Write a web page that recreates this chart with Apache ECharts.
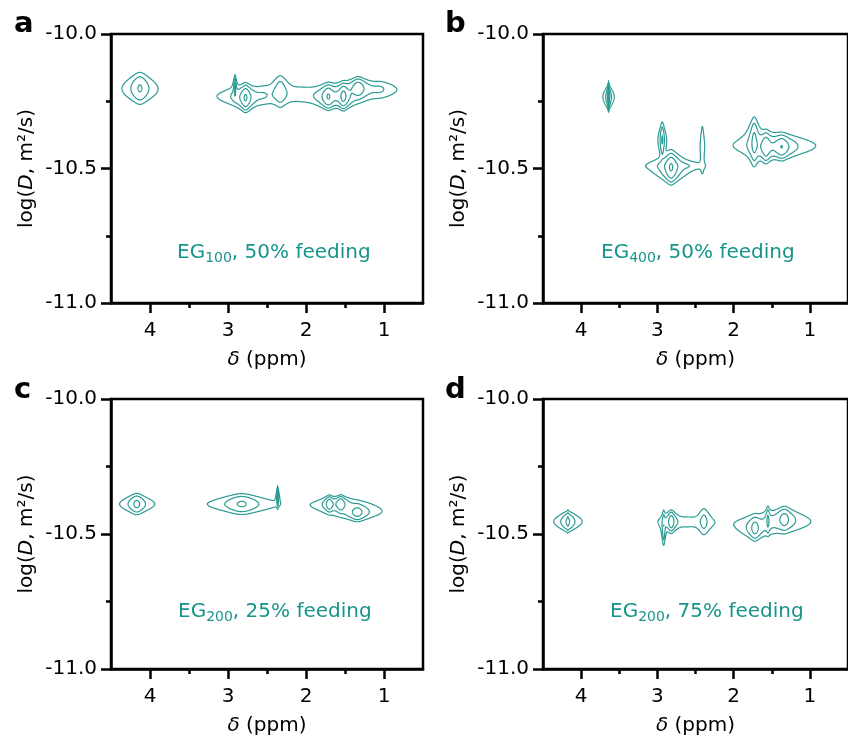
<!DOCTYPE html>
<html><head><meta charset="utf-8">
<script src="https://cdn.jsdelivr.net/npm/echarts@6/dist/echarts.min.js"></script>
<style>html,body{margin:0;padding:0;background:#fff}#c{width:848px;height:744px}</style>
</head><body><div id="c"></div>
<script>
// ---------------- data ----------------
const panelLetters = ['a', 'b', 'c', 'd'];
const sampleSubscripts = ['100', '400', '200', '200'];
const feedingTexts = [', 50% feeding', ', 50% feeding', ', 25% feeding', ', 75% feeding'];
const xMajorTicks = [1, 2, 3, 4];
const xMinorTicks = [1.5, 2.5, 3.5];
const contourLevels = [1, 3, 9, 27, 81];

// Panel a: EG100, 50% feeding  (peak centre δ, centre logD, width δ, width logD, height)
const shiftA = [4.13, 2.91, 2.775, 2.87, 2.33, 2.55, 2.05, 1.714, 1.52, 1.33, 1.05];
const logDA = [-10.202, -10.20, -10.237, -10.232, -10.213, -10.226, -10.222, -10.233, -10.232, -10.202, -10.205];
const widthShiftA = [0.075, 0.008, 0.04, 0.15, 0.06, 0.1, 0.15, 0.05, 0.04, 0.06, 0.12];
const widthLogDA = [0.039, 0.03, 0.03, 0.025, 0.043, 0.028, 0.025, 0.028, 0.028, 0.025, 0.025];
const heightA = [10, 14, 30, 2, 6, 1.6, 1.0, 28, 40, 20, 2.5];

// Panel b: EG400, 50% feeding
const shiftB = [3.64, 3.64, 2.936, 2.82, 2.82, 2.41, 2.6, 1.73, 1.575, 1.37, 1.45];
const logDB = [-10.234, -10.234, -10.394, -10.488, -10.497, -10.425, -10.49, -10.40, -10.42, -10.42, -10.41];
const widthShiftB = [0.03, 0.004, 0.018, 0.15, 0.05, 0.02, 0.1, 0.035, 0.04, 0.06, 0.28];
const widthLogDB = [0.03, 0.028, 0.044, 0.016, 0.035, 0.09, 0.012, 0.058, 0.035, 0.028, 0.035];
const heightB = [6, 60, 10, 2, 30, 2.2, 1.3, 12, 20, 25, 2.2];

// Panel c: EG200, 25% feeding
const shiftC = [4.17, 2.824, 2.363, 1.70, 1.555, 1.342, 1.45];
const logDC = [-10.389, -10.389, -10.363, -10.389, -10.389, -10.42, -10.405];
const widthShiftC = [0.063, 0.135, 0.004, 0.03, 0.035, 0.07, 0.25];
const widthLogDC = [0.025, 0.025, 0.022, 0.019, 0.019, 0.021, 0.03];
const heightC = [12, 10.5, 30, 20, 24, 14, 1.5];

// Panel d: EG200, 75% feeding
const shiftD = [4.174, 4.174, 2.818, 2.917, 2.39, 2.6, 1.72, 1.55, 1.335, 1.45];
const logDD = [-10.454, -10.454, -10.454, -10.478, -10.454, -10.455, -10.479, -10.45, -10.445, -10.46];
const widthShiftD = [0.06, 0.008, 0.03, 0.012, 0.05, 0.12, 0.05, 0.015, 0.06, 0.3];
const widthLogDD = [0.025, 0.03, 0.025, 0.045, 0.04, 0.017, 0.029, 0.034, 0.029, 0.034];
const heightD = [10, 4, 20, 8, 4, 1.4, 14, 10, 14, 2];

// ---------------- contour computation ----------------
const panels = [
  { shift: shiftA, logD: logDA, wS: widthShiftA, wD: widthLogDA, h: heightA },
  { shift: shiftB, logD: logDB, wS: widthShiftB, wD: widthLogDB, h: heightB },
  { shift: shiftC, logD: logDC, wS: widthShiftC, wD: widthLogDC, h: heightC },
  { shift: shiftD, logD: logDD, wS: widthShiftD, wD: widthLogDD, h: heightD }
];
const GX0 = 0.5, GX1 = 4.5, GDX = 0.004;
const GY0 = -10.70, GY1 = -10.02, GDY = 0.002;
const nx = Math.round((GX1 - GX0) / GDX) + 1;
const ny = Math.round((GY1 - GY0) / GDY) + 1;
const xs = new Float64Array(nx), ys = new Float64Array(ny);
for (let i = 0; i < nx; i++) xs[i] = GX0 + i * GDX;
for (let j = 0; j < ny; j++) ys[j] = GY0 + j * GDY;

function buildField(p) {
  const f = new Float64Array(nx * ny);
  const lx = new Float64Array(nx), gy = new Float64Array(ny);
  for (let k = 0; k < p.shift.length; k++) {
    for (let i = 0; i < nx; i++) { const u = (xs[i] - p.shift[k]) / p.wS[k]; lx[i] = 1 / (1 + u * u); }
    for (let j = 0; j < ny; j++) { const v = (ys[j] - p.logD[k]) / p.wD[k]; gy[j] = p.h[k] * Math.exp(-v * v); }
    for (let j = 0; j < ny; j++) {
      const g = gy[j]; if (g < 1e-5) continue;
      const row = j * nx;
      for (let i = 0; i < nx; i++) f[row + i] += g * lx[i];
    }
  }
  return f;
}

function contourPolylines(f, level) {
  const segA = [], segB = [];
  const edgeMap = new Map();
  function add(e1, e2) {
    const s = segA.length; segA.push(e1); segB.push(e2);
    let l = edgeMap.get(e1); if (!l) { l = []; edgeMap.set(e1, l); } l.push(s);
    l = edgeMap.get(e2); if (!l) { l = []; edgeMap.set(e2, l); } l.push(s);
  }
  for (let j = 0; j < ny - 1; j++) {
    for (let i = 0; i < nx - 1; i++) {
      const a = f[j * nx + i], b = f[j * nx + i + 1], c = f[(j + 1) * nx + i + 1], d = f[(j + 1) * nx + i];
      const idx = (a > level ? 1 : 0) | (b > level ? 2 : 0) | (c > level ? 4 : 0) | (d > level ? 8 : 0);
      if (idx === 0 || idx === 15) continue;
      const e0 = (j * nx + i) * 2, e1 = (j * nx + i + 1) * 2 + 1, e2 = ((j + 1) * nx + i) * 2, e3 = (j * nx + i) * 2 + 1;
      switch (idx) {
        case 1: case 14: add(e0, e3); break;
        case 2: case 13: add(e0, e1); break;
        case 3: case 12: add(e1, e3); break;
        case 4: case 11: add(e1, e2); break;
        case 6: case 9: add(e0, e2); break;
        case 7: case 8: add(e2, e3); break;
        case 5: { const m = (a + b + c + d) / 4; if (m > level) { add(e0, e1); add(e2, e3); } else { add(e0, e3); add(e1, e2); } break; }
        case 10: { const m = (a + b + c + d) / 4; if (m > level) { add(e0, e3); add(e1, e2); } else { add(e0, e1); add(e2, e3); } break; }
      }
    }
  }
  function edgePt(e) {
    const isV = e & 1, cell = e >> 1;
    const i = cell % nx, j = (cell - i) / nx;
    const v0 = f[cell], v1 = isV ? f[cell + nx] : f[cell + 1];
    const t = (level - v0) / (v1 - v0);
    return isV ? [xs[i], ys[j] + t * GDY] : [xs[i] + t * GDX, ys[j]];
  }
  const used = new Uint8Array(segA.length);
  const out = [];
  function walk(start, list) {
    let cur = start;
    while (true) {
      const l = edgeMap.get(cur); let nxt = -1;
      for (const t of l) if (!used[t]) { nxt = t; break; }
      if (nxt < 0) break;
      used[nxt] = 1;
      const other = segA[nxt] === cur ? segB[nxt] : segA[nxt];
      list.push(other); cur = other;
    }
  }
  for (let s = 0; s < segA.length; s++) {
    if (used[s]) continue; used[s] = 1;
    const fwd = [segA[s], segB[s]];
    walk(segB[s], fwd);
    const back = [];
    walk(segA[s], back);
    const full = back.reverse().concat(fwd);
    out.push({ coords: full.map(edgePt) });
  }
  return out;
}

// ---------------- layout ----------------
const gridBoxes = [
  { left: 111, top: 34, width: 312, height: 269 },
  { left: 543, top: 34, width: 313, height: 269 },
  { left: 111, top: 399, width: 312, height: 270 },
  { left: 543, top: 399, width: 313, height: 270 }
];
const letterPos = [[14, 24], [445, 24], [14, 390], [445, 390]];
const notePos = [[177, 253], [601, 253], [178, 612], [610, 612]];
const FONT = 'DejaVu Sans';
const TEAL_TEXT = '#17958c';
const TEAL_LINE = '#2a9b93';

const grids = [], xAxes = [], yAxes = [], series = [], graphics = [];
gridBoxes.forEach((g) => {
  grids.push(Object.assign({ show: true, borderColor: '#000', borderWidth: 2.5, backgroundColor: 'transparent', containLabel: false }, g));
});
for (let k = 0; k < 4; k++) {
  xAxes.push({
    type: 'value', gridIndex: k, min: 0.5, max: 4.5, inverse: true, position: 'bottom',
    axisLine: { show: true, onZero: false, lineStyle: { color: '#000', width: 2.5 } },
    axisTick: { show: true, length: 10, customValues: xMajorTicks, lineStyle: { color: '#000', width: 2.5 } },
    axisLabel: { show: true, customValues: xMajorTicks, margin: 18, fontSize: 20, fontFamily: FONT, color: '#000', formatter: v => String(v) },
    splitLine: { show: false },
    name: '{i|δ} (ppm)', nameLocation: 'middle', nameGap: 47,
    nameTextStyle: { fontSize: 20, fontFamily: FONT, color: '#000', rich: { i: { fontStyle: 'italic', fontSize: 20, fontFamily: FONT, color: '#000' } } }
  });
}
for (let k = 0; k < 4; k++) {
  xAxes.push({
    type: 'value', gridIndex: k, min: 0.5, max: 4.5, inverse: true, position: 'bottom',
    axisLine: { show: false, onZero: false },
    axisTick: { show: true, length: 5, customValues: xMinorTicks, lineStyle: { color: '#000', width: 2.5 } },
    axisLabel: { show: false }, splitLine: { show: false }
  });
}
for (let k = 0; k < 4; k++) {
  yAxes.push({
    type: 'value', gridIndex: k, min: -11, max: -10, interval: 0.5,
    axisLine: { show: true, onZero: false, lineStyle: { color: '#000', width: 2.5 } },
    axisTick: { show: true, length: 10, lineStyle: { color: '#000', width: 2.5 } },
    minorTick: { show: true, splitNumber: 2, length: 5, lineStyle: { color: '#000', width: 2.5 } },
    axisLabel: { margin: 14, fontSize: 20, fontFamily: FONT, color: '#000', formatter: v => v.toFixed(1) },
    splitLine: { show: false }, minorSplitLine: { show: false },
    name: 'log({i|D}, m²/s)', nameLocation: 'middle', nameGap: 74,
    nameTextStyle: { fontSize: 20, fontFamily: FONT, color: '#000', rich: { i: { fontStyle: 'italic', fontSize: 20, fontFamily: FONT, color: '#000' } } }
  });
}
panels.forEach((p, k) => {
  const field = buildField(p);
  contourLevels.forEach(level => {
    const lines = contourPolylines(field, level);
    if (!lines.length) return;
    series.push({
      type: 'lines', coordinateSystem: 'cartesian2d', xAxisIndex: k, yAxisIndex: k,
      polyline: true, silent: true, animation: false, progressive: 0,
      lineStyle: { color: TEAL_LINE, width: 1.2, opacity: 1, curveness: 0 },
      data: lines, z: 3
    });
  });
  graphics.push({
    type: 'text', z: 10, silent: true,
    style: { text: panelLetters[k], x: letterPos[k][0], y: letterPos[k][1], fontSize: 29, fontWeight: 'bold', fontFamily: FONT, fill: '#000', verticalAlign: 'middle', align: 'left' }
  });
  graphics.push({
    type: 'text', z: 10, silent: true,
    style: {
      text: '{m|EG}{s|' + sampleSubscripts[k] + '}{m|' + feedingTexts[k] + '}',
      x: notePos[k][0], y: notePos[k][1], align: 'left', verticalAlign: 'middle',
      rich: {
        m: { fontSize: 20, fontFamily: FONT, fill: TEAL_TEXT, lineHeight: 24, verticalAlign: 'middle' },
        s: { fontSize: 14, fontFamily: FONT, fill: TEAL_TEXT, lineHeight: 8, verticalAlign: 'bottom' }
      }
    }
  });
});

const chart = echarts.init(document.getElementById('c'), null, { renderer: 'canvas' });
chart.setOption({
  animation: false, backgroundColor: '#fff',
  grid: grids, xAxis: xAxes, yAxis: yAxes, series: series, graphic: graphics
});
</script></body></html>
